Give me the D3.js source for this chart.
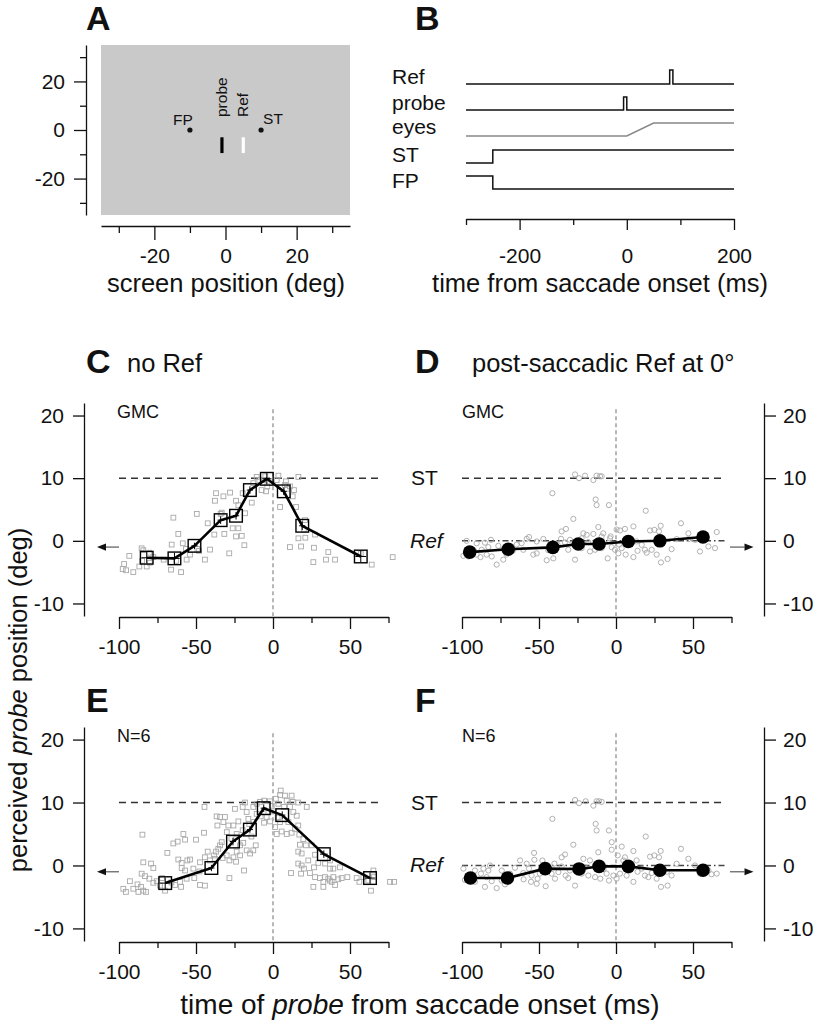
<!DOCTYPE html>
<html><head><meta charset="utf-8">
<script src="https://cdn.jsdelivr.net/npm/d3@7"></script>
<style>body{margin:0;background:#fff}svg{display:block}</style>
</head><body>
<svg id="c" width="819" height="1027"></svg>
<script>
// ---------- DATA ----------
// Panel A: stimulus layout (deg)
const screenDomain = [-35, 35];
const screenMajorTicks = [-20, 0, 20];
const screenMinorTicks = [-30, -10, 10, 30];
const fpPos = [-10, 0];
const stPos = [10, 0];
const probeBar = { x: -1, y0: -3, y1: -9.5 };
const refBar = { x: 5, y0: -3, y1: -9.5 };

// Panel B: trial timeline (ms)
const timelineDomain = [-300, 200];
const timelineMajorTicks = [-200, 0, 200];
const timelineMinorTicks = [-300, -100, 100];
const timelineLabels = ["Ref", "probe", "eyes", "ST", "FP"];
const refPulse = [80, 86];
const probePulse = [-6, 0];
const eyesRamp = [0, 50];
const stOnset = -250;
const fpOffset = -250;

// Panels C-F
const timeDomain = [-100, 75];
const timeMajorTicks = [-100, -50, 0, 50];
const timeMinorTicks = [-75, -25, 25, 75];
const posDomain = [-12, 22];
const posTicks = [-10, 0, 10, 20];
const stLevel = 10;
const refLevel = 0;
const arrowLevel = -1;

const cMeanT = [-82, -64, -51, -34, -24, -15, -4, 7, 19, 57];
const cMeanV = [-2.7, -2.8, -0.8, 3.3, 4.0, 8.1, 9.9, 7.9, 2.4, -2.5];
const cErrT = [3.5, 3.5, 2, 2, 2, 2, 3, 2, 2, 3.5];
const cErrV = [0.9, 0.9, 0.5, 0.6, 0.6, 0.6, 0.9, 0.6, 0.7, 0.9];
const cScatter = [[-93.3,-2.4],[-96.7,-3.7],[-97.6,-4.5],[-95.4,-4.7],[-90.7,-5.0],[-86.8,-4.1],[-85.3,-1.2],[-84.2,-1.5],[-82,-4.1],[-80.3,-1.9],[-77.7,-2.6],[-66.2,-4.6],[-59.7,-5.0],[-64.7,3.7],[-61.5,1.1],[-65.8,-0.6],[-58.6,-0.4],[-56.5,-1.3],[-56.1,-3.0],[-49.5,4.3],[-53.9,-2.2],[-49.1,-1.3],[-44.2,-3.0],[-42.4,2.8],[-40.9,-1.4],[-37,7.6],[-37.7,6.4],[-32.2,7.1],[-27.9,7.7],[-33.3,4.5],[-38.1,1.0],[-31.6,1.1],[-28.4,-2.0],[-26.2,2.0],[-22.5,2.0],[-24,6.4],[-22.5,5.7],[-24,0.7],[-20.3,0.8],[-18.6,-0.7],[-19.7,7.6],[-18.2,4.4],[-13.8,6.1],[-12.8,9.2],[-10.6,10.2],[-7.4,8.1],[-4.5,7.9],[-3.7,8.7],[-6.3,9.7],[-8.9,9.7],[3.5,10.4],[2.4,9.7],[4.6,5.4],[8.4,9.5],[7.8,8.9],[12.8,7.1],[13.6,8.1],[15,5.4],[16.5,10.2],[11,8.7],[16.5,0.4],[20.8,3.3],[11,-1.0],[18.2,-0.9],[26.6,-1.1],[27.3,1.0],[26.2,-3.4],[34.4,-3.0],[40.3,-3.0],[35.9,-1.8],[64.1,-3.8],[77.7,-2.6],[-85,-3.2],[-80,-3.5],[-48,-1.6],[-34,4.3],[-5,10.3],[9,8.3],[20,1.8],[21,0.5],[57,-2.0],[-63,-3.2],[-71,-3.0]];

const dMeanT = [-95, -70, -41, -24.5, -11, 8, 28.5, 56.5];
const dMeanV = [-1.8, -1.35, -1.05, -0.5, -0.5, -0.1, 0, 0.6];
const dScatter = [[-26.6,10.6],[-24,10.0],[-20.1,10.4],[-14.7,9.7],[-12.6,10.4],[-10.4,10.3],[-9.3,10.3],[-41.3,7.6],[-13.2,6.6],[-12.6,5.7],[-4.6,5.7],[19.3,4.8],[-27.7,3.5],[-35.3,1.5],[-32.5,1.9],[-11.5,2.2],[0.4,1.8],[2.6,1.65],[5.8,1.9],[11.3,2.3],[22.1,1.65],[24.9,1.75],[29,2.4],[27.9,1.5],[42.2,2.8],[47,1.2],[65.4,1.4],[-21.2,1.2],[-19.0,0.96],[-14.7,1.1],[-8.3,1.2],[-3.5,0.7],[-22.3,0.4],[-9.3,0.7],[-3.9,0.4],[-99.1,-2.4],[-95.9,-2.5],[-97,0],[-90.5,-0.4],[-85.1,-0.3],[-81.2,0.16],[-87.2,-1.43],[-84,-2.2],[-80.7,-2.5],[-77.5,-3.8],[-73.2,-3.0],[-90.5,-2.2],[-82.9,-1.0],[-76.4,-0.8],[-64.5,-0.6],[-61.3,-0.37],[-58,0.32],[-56.5,0.6],[-51.5,-0.1],[-47.2,0.3],[-53.7,-2.2],[-51.5,-2.0],[-45,-3.1],[-40.7,-2.8],[-35.7,0.32],[-33.1,-0.26],[-29.9,0.16],[-31,-1.43],[-26.6,-3.0],[-22.3,-1.17],[-16.9,-1.7],[-13.6,-1.43],[-9.3,-1.17],[-5.4,-2.8],[-2.8,-1.0],[-0.7,-1.43],[1.5,-2.0],[3.7,-1.17],[6.3,-2.2],[11.3,-2.6],[13.4,-0.1],[16.7,-0.64],[18.8,-1.43],[19.9,-1.9],[23.2,-1.43],[26.4,-2.2],[29.2,-3.45],[33.5,-2.9],[36.1,-1.33],[39.4,0.27],[47,0.27],[54.5,-1.7],[60,-0.9],[64.3,-1.17],[51.3,0.16],[-67.8,-0.9],[-71,-2.2],[-60.2,-1.43],[-92,-1.6],[-88,-2.6],[-67,-1.6],[-44,-1.5],[-38,-0.6],[-18,-0.2],[2,-0.6],[14,-1.6]];

const eMeanT = [-70, -40, -26, -15, -6, 6, 33, 63];
const eMeanV = [-2.8, -0.4, 3.8, 5.7, 9.1, 8.0, 1.8, -2.0];
const eErrT = [3.5, 2, 2, 2, 2, 2, 2.5, 3.5];
const eErrV = [0.9, 0.5, 0.6, 0.5, 0.6, 0.6, 0.6, 0.9];
const eScatter = [[-97.2,-3.7],[-95.5,-4.2],[-92.9,-2.5],[-90.7,-3.7],[-87.4,-4.2],[-85.7,-3.4],[-84.2,-4.0],[-82.5,-4.2],[-84.8,4.9],[-84.2,0.5],[-79.2,0.3],[-77.7,-0.4],[-85.3,-1.3],[-83.1,-1.7],[-80.3,-2.1],[-77.7,-2.75],[-75.5,-2.5],[-73.4,-3.2],[-64.7,3.5],[-61.9,3.8],[-58.2,5.0],[-57.1,4.1],[-50,4.1],[-44.8,5.2],[-68.6,2.0],[-61.5,0.95],[-59.3,0.4],[-55.6,0.8],[-53.9,0.95],[-59.3,-0.4],[-57.1,-0.8],[-51.7,-0.5],[-47.8,-0.95],[-60.4,-2.6],[-56.1,-2.1],[-51.1,-2.0],[-47.4,-3.1],[-44.2,-3.2],[-63.6,-3.1],[-59.7,-3.4],[-70.1,-4.0],[-47.4,0.5],[-44.2,1.3],[-42.4,2.2],[-40.9,0.8],[-38.3,1.6],[-37,2.2],[-35.5,2.65],[-34.4,3.2],[-33.3,3.7],[-36.6,7.8],[-34.4,7.7],[-31.2,7.7],[-36.1,6.35],[-32.2,6.9],[-29,6.35],[-37.7,1.06],[-32.7,1.2],[-30.1,1.6],[-28.3,0.8],[-25.7,1.3],[-24,0.6],[-21.4,1.6],[-18.8,-0.8],[-28.3,-2.0],[-23.6,2.2],[-21.4,3.2],[-19.3,3.6],[-17.1,2.4],[-14.9,1.9],[-12.8,2.4],[-11.2,3.2],[-23.6,5.0],[-19.7,5.6],[-25.7,6.35],[-22.5,7.0],[-24.7,9.0],[-19.7,9.3],[-18.2,10],[-17.1,8.5],[-16,7.4],[-15.4,6.6],[-12.8,6.9],[-10.6,8.2],[-12.8,9.3],[-10.6,9.8],[-8.4,10.1],[-5.8,10.3],[-3,8.5],[-4.1,7.7],[-5.8,6.8],[-1.9,7.0],[-0.8,9.5],[1.9,10.6],[4.6,11.2],[5,11.9],[7.8,11.1],[8.9,10.3],[12.1,11.1],[12.8,10.1],[3.5,9.8],[7.2,9.3],[11.0,9.3],[16.4,10],[21.9,9.3],[1.3,6.1],[5.6,5.4],[8.9,5.0],[12.1,5.2],[14.3,5.8],[16.4,6.35],[2.4,5.0],[4.6,6.9],[10,6.9],[13.2,8.5],[15.4,7.9],[17.1,4.9],[19.7,4.2],[21.4,3.2],[17.5,3.3],[16.4,2.2],[18.6,1.9],[25.1,3.2],[27.3,1.7],[22.9,0.8],[16.4,0.3],[18.6,0],[20.1,-0.5],[18.2,-1.3],[11.7,-1.2],[24,-1.2],[26.6,-0.3],[29.4,0.4],[33.8,0.3],[37,0.8],[37,-0.5],[39.2,-0.5],[43.5,-0.3],[27.3,-1.85],[30.5,-2.0],[33.8,-1.85],[35.9,-2.1],[39.2,-1.85],[42.4,-2.2],[32.7,-2.6],[37,-2.4],[40.3,-3.1],[44.6,-2.0],[48.3,-1.85],[26.2,-3.4],[32.7,-3.4],[38.1,-2.6],[54.3,-2.0],[56.1,-2.6],[58.7,-1.85],[61.9,-2.4],[65.2,-0.8],[65.6,-1.85],[63.6,-4.0],[76,-2.6],[78.6,-2.6],[-44.5,9.3],[-30,5.3],[-27,4.3],[-14,4.6],[-8,7.8],[0,8.6],[3,7.6],[-2,10.2],[-66,-2.7],[-72,-2.0],[-88,-3.0]];

const fMeanT = [-94.5, -70.5, -46, -24, -11, 8, 28.5, 56.5];
const fMeanV = [-2.0, -2.0, -0.5, -0.55, -0.15, -0.15, -0.75, -0.75];
const fScatter = [[-26.6,10.4],[-24,9.9],[-19.7,10.2],[-14.7,9.5],[-12.6,10.2],[-11,10.2],[-9.3,10.1],[-41.3,7.4],[-13.2,6.6],[-12.6,5.56],[-4.6,5.56],[19.3,4.6],[42.2,2.65],[-27.7,3.3],[-2.8,3.7],[-2.8,2.5],[3.7,3.0],[11.3,2.3],[-53.2,2.0],[-35.3,1.3],[-33.1,1.75],[-21.2,1.06],[-11.5,2.1],[1.1,1.6],[5.8,1.3],[22.1,1.4],[24.9,1.6],[29,2.3],[27.9,1.3],[47,1.06],[65.4,-1.3],[-99.1,-0.5],[-98.1,-2.3],[-91.6,-2.6],[-87.7,-1.3],[-85.1,-3.4],[-82.9,-0.8],[-81.8,0.0],[-80.7,-2.5],[-77.5,-3.6],[-74.2,-2.4],[-72.1,-3.0],[-65.6,-0.37],[-62.3,0.8],[-60.2,-1.2],[-58,0.27],[-56.5,-0.5],[-54.8,-1.6],[-53,0.9],[-50.9,-2.1],[-49.4,-1.3],[-47.8,0.8],[-45.7,-3.3],[-55.2,-2.6],[-51.5,-2.9],[-41.8,-1.3],[-39.6,-2.1],[-37.4,-1.05],[-35.3,-0.16],[-32.7,-1.6],[-29.9,-0.8],[-26.6,-3.2],[-22.3,-1.3],[-18,-1.6],[-16.9,0.8],[-13.6,-1.85],[-10.2,-2.1],[-6.1,-1.3],[-4.6,-2.4],[-1.7,-1.6],[0.4,-2.1],[2.6,-1.3],[4.8,0.8],[6.9,-1.6],[11.3,-2.6],[13.4,0.8],[16.7,-0.5],[18.8,-1.6],[21,-1.85],[23.2,-1.2],[26.4,-2.1],[29.2,-3.4],[33.5,-3.2],[36.1,-1.6],[39.4,0.27],[51.3,0],[54.5,-1.3],[60,-0.8],[-74.2,-0.8],[-68.8,-1.3],[-91.6,-0.8],[-86.1,-0.5],[-84,-1.85],[-95.9,-1.6],[-60,-2.2],[-44,-0.5],[-40,0.3],[-31,-2.0],[-20,-0.3],[-8,-0.6],[9,-0.8],[14,-1.0],[33,-1.0],[62,-1.4]];

// ---------- DRAWING ----------
const FONT = '"Liberation Sans", Arial, Helvetica, sans-serif';
const INK = "#111";
const svg = d3.select("#c");

function addText(x, y, s, o = {}) {
  const t = svg.append("text").attr("x", x).attr("y", y).text(s)
    .attr("font-family", FONT).attr("font-size", o.size || 21)
    .attr("fill", o.fill || INK);
  if (o.anchor) t.attr("text-anchor", o.anchor);
  if (o.weight) t.attr("font-weight", o.weight);
  if (o.italic) t.attr("font-style", "italic");
  if (o.rotate) t.attr("transform", `rotate(${o.rotate},${x},${y})`);
  return t;
}

function drawAxis(axisFn, scale, tx, ty, major, minor, o) {
  const pos = `translate(${tx},${ty})`;
  if (minor && minor.length) {
    const g2 = svg.append("g").attr("transform", pos);
    g2.call(axisFn(scale).tickValues(minor).tickSize(o.minor).tickSizeOuter(0).tickFormat(""));
    g2.select(".domain").remove();
    g2.selectAll(".tick line").attr("stroke", INK).attr("stroke-width", 1.3);
  }
  const g = svg.append("g").attr("transform", pos);
  g.call(axisFn(scale).tickValues(major).tickSize(o.tick).tickSizeOuter(0)
    .tickPadding(o.pad).tickFormat(d => String(d)));
  g.select(".domain").attr("stroke", INK).attr("stroke-width", 1.3);
  g.selectAll(".tick line").attr("stroke", INK).attr("stroke-width", 1.3);
  g.selectAll(".tick text").attr("font-family", FONT).attr("font-size", o.fs || 21).attr("fill", INK);
  return g;
}

// ===== Panel A =====
(function () {
  const x = d3.scaleLinear().domain(screenDomain).range([101, 350]);
  const y = d3.scaleLinear().domain(screenDomain).range([215, 45]);
  svg.append("rect").attr("x", x(screenDomain[0])).attr("y", y(screenDomain[1]))
    .attr("width", x(screenDomain[1]) - x(screenDomain[0]))
    .attr("height", y(screenDomain[0]) - y(screenDomain[1]))
    .attr("fill", "#c9c9c9");
  drawAxis(d3.axisLeft, y, 86, 0, screenMajorTicks, screenMinorTicks, { tick: 12, minor: 6, pad: 9 });
  drawAxis(d3.axisBottom, x, 0, 226, screenMajorTicks, screenMinorTicks, { tick: 14, minor: 7, pad: 8 });
  [fpPos, stPos].forEach(p => svg.append("circle").attr("cx", x(p[0])).attr("cy", y(p[1])).attr("r", 2.6).attr("fill", INK));
  addText(x(fpPos[0]) + 3, y(fpPos[1]) - 5, "FP", { size: 15.5, anchor: "end" });
  addText(x(stPos[0]) + 2, y(stPos[1]) - 6, "ST", { size: 15.5 });
  svg.append("line").attr("x1", x(probeBar.x)).attr("x2", x(probeBar.x))
    .attr("y1", y(probeBar.y0)).attr("y2", y(probeBar.y1)).attr("stroke", "#000").attr("stroke-width", 3.2);
  svg.append("line").attr("x1", x(refBar.x)).attr("x2", x(refBar.x))
    .attr("y1", y(refBar.y0)).attr("y2", y(refBar.y1)).attr("stroke", "#fff").attr("stroke-width", 3.2);
  addText(x(probeBar.x) + 5, 117, "probe", { size: 15.5, rotate: -90 });
  addText(x(refBar.x) + 5, 117, "Ref", { size: 15.5, rotate: -90 });
  addText(86, 30, "A", { size: 34, weight: "bold" });
  addText(226, 292, "screen position (deg)", { size: 25.5, anchor: "middle" });
})();

// ===== Panel B =====
(function () {
  const x = d3.scaleLinear().domain(timelineDomain).range([466, 734]);
  const t0 = timelineDomain[0], t1 = timelineDomain[1];
  const line = (d, c) => svg.append("path").attr("d", d).attr("fill", "none")
    .attr("stroke", c || INK).attr("stroke-width", 1.5);
  line(`M${x(t0)},84H${x(refPulse[0])}V70H${x(refPulse[1])}V84H${x(t1)}`);
  line(`M${x(t0)},110H${x(probePulse[0])}V97H${x(probePulse[1])}V110H${x(t1)}`);
  line(`M${x(t0)},136H${x(eyesRamp[0])}L${x(eyesRamp[1])},123H${x(t1)}`, "#888");
  line(`M${x(t0)},163H${x(stOnset)}V150H${x(t1)}`);
  line(`M${x(t0)},176H${x(fpOffset)}V189H${x(t1)}`);
  const labelY = [84, 110, 134, 162, 188];
  timelineLabels.forEach((s, i) => addText(392, labelY[i], s, { size: 21 }));
  drawAxis(d3.axisBottom, x, 0, 219, timelineMajorTicks, timelineMinorTicks, { tick: 11, minor: 6, pad: 18 });
  addText(415, 30, "B", { size: 34, weight: "bold" });
  addText(600, 292, "time from saccade onset (ms)", { size: 25.5, anchor: "middle" });
})();

// ===== Panels C-F =====
function arrow(xTail, xTip, yy) {
  const dir = xTip > xTail ? 1 : -1;
  const hl = 9, hw = 3.6;
  svg.append("line").attr("x1", xTail).attr("x2", xTip - dir * hl).attr("y1", yy).attr("y2", yy)
    .attr("stroke", "#666").attr("stroke-width", 1.3);
  svg.append("path").attr("d", `M${xTip},${yy}L${xTip - dir * hl},${yy - hw}L${xTip - dir * hl},${yy + hw}Z`)
    .attr("fill", INK);
}

function dataPanel(p) {
  const x = d3.scaleLinear().domain(timeDomain).range([p.x0, p.x1]);
  const y = d3.scaleLinear().domain(posDomain).range([p.yb, p.yt]);
  svg.append("line").attr("x1", x(0)).attr("x2", x(0)).attr("y1", y(21)).attr("y2", y(posDomain[0]))
    .attr("stroke", "#888").attr("stroke-width", 1.2).attr("stroke-dasharray", "4,3");
  svg.append("line").attr("x1", x(-100)).attr("x2", x(70)).attr("y1", y(stLevel)).attr("y2", y(stLevel))
    .attr("stroke", "#333").attr("stroke-width", 1.4).attr("stroke-dasharray", "7,5");
  if (p.ref) {
    svg.append("line").attr("x1", x(-100)).attr("x2", x(71)).attr("y1", y(refLevel)).attr("y2", y(refLevel))
      .attr("stroke", "#444").attr("stroke-width", 1.4).attr("stroke-dasharray", "6,3,1.5,3");
  }
  const g = svg.append("g");
  if (p.marker === "square") {
    g.selectAll("rect").data(p.scatter).join("rect")
      .attr("x", d => x(d[0]) - 2.4).attr("y", d => y(d[1]) - 2.4)
      .attr("width", 4.8).attr("height", 4.8)
      .attr("fill", "none").attr("stroke", "#a8a8a8").attr("stroke-width", 0.9);
  } else {
    g.selectAll("circle").data(p.scatter).join("circle")
      .attr("cx", d => x(d[0])).attr("cy", d => y(d[1])).attr("r", 2.6)
      .attr("fill", "none").attr("stroke", "#a8a8a8").attr("stroke-width", 0.9);
  }
  const pts = p.meanT.map((t, i) => [x(t), y(p.meanV[i])]);
  svg.append("path").attr("d", d3.line()(pts)).attr("fill", "none")
    .attr("stroke", "#000").attr("stroke-width", 2.6).attr("stroke-linejoin", "round");
  if (p.marker === "square") {
    p.meanT.forEach((t, i) => {
      const cx = x(t), cy = y(p.meanV[i]);
      svg.append("line").attr("x1", x(t - p.errT[i])).attr("x2", x(t + p.errT[i])).attr("y1", cy).attr("y2", cy)
        .attr("stroke", "#000").attr("stroke-width", 1);
      svg.append("line").attr("x1", cx).attr("x2", cx).attr("y1", y(p.meanV[i] - p.errV[i])).attr("y2", y(p.meanV[i] + p.errV[i]))
        .attr("stroke", "#000").attr("stroke-width", 1);
      svg.append("rect").attr("x", cx - 6.3).attr("y", cy - 6.3).attr("width", 12.6).attr("height", 12.6)
        .attr("fill", "none").attr("stroke", "#000").attr("stroke-width", 1.4);
    });
  } else {
    svg.append("g").selectAll("circle").data(pts).join("circle")
      .attr("cx", d => d[0]).attr("cy", d => d[1]).attr("r", 6.8).attr("fill", "#000");
  }
  drawAxis(d3.axisBottom, x, 0, p.yb + 1, timeMajorTicks, timeMinorTicks, { tick: 12, minor: 6, pad: 10 });
  if (p.side === "left") {
    drawAxis(d3.axisLeft, y, p.axisX, 0, posTicks, [], { tick: 11, pad: 9 });
    arrow(p.x0, p.x0 - 22, y(arrowLevel));
  } else {
    drawAxis(d3.axisRight, y, p.axisX, 0, posTicks, [], { tick: 12, pad: 7 });
    arrow(p.x1 - 1.5, p.x1 + 22, y(arrowLevel));
  }
  addText(p.x0 - (p.side === "left" ? 2 : 0), y(21) + 9, p.tag, { size: 18 });
  if (p.ref) {
    addText(411, y(stLevel) + 7, "ST", { size: 21 });
    addText(410, y(refLevel) + 7, "Ref", { size: 21, italic: true });
  }
}

dataPanel({ x0: 119, x1: 388.5, yt: 403, yb: 616, axisX: 84, side: "left", marker: "square",
  scatter: cScatter, meanT: cMeanT, meanV: cMeanV, errT: cErrT, errV: cErrV, tag: "GMC" });
dataPanel({ x0: 462, x1: 731.5, yt: 403, yb: 616, axisX: 764, side: "right", marker: "circle", ref: true,
  scatter: dScatter, meanT: dMeanT, meanV: dMeanV, tag: "GMC" });
dataPanel({ x0: 119, x1: 388.5, yt: 727, yb: 941, axisX: 84, side: "left", marker: "square",
  scatter: eScatter, meanT: eMeanT, meanV: eMeanV, errT: eErrT, errV: eErrV, tag: "N=6" });
dataPanel({ x0: 462, x1: 731.5, yt: 727, yb: 941, axisX: 764, side: "right", marker: "circle", ref: true,
  scatter: fScatter, meanT: fMeanT, meanV: fMeanV, tag: "N=6" });

addText(86, 373, "C", { size: 34, weight: "bold" });
addText(127, 372, "no Ref", { size: 25.5 });
addText(415, 373, "D", { size: 34, weight: "bold" });
addText(472, 372, "post-saccadic Ref at 0°", { size: 25.5 });
addText(86, 712, "E", { size: 34, weight: "bold" });
addText(415, 712, "F", { size: 34, weight: "bold" });

const yTitle = svg.append("text").attr("transform", "translate(27,700) rotate(-90)")
  .attr("text-anchor", "middle").attr("font-family", FONT).attr("font-size", 25.5).attr("fill", INK);
yTitle.append("tspan").text("perceived ");
yTitle.append("tspan").attr("font-style", "italic").text("probe");
yTitle.append("tspan").text(" position (deg)");
const xTitle = svg.append("text").attr("x", 420).attr("y", 1014)
  .attr("text-anchor", "middle").attr("font-family", FONT).attr("font-size", 28).attr("fill", INK);
xTitle.append("tspan").text("time of ");
xTitle.append("tspan").attr("font-style", "italic").text("probe");
xTitle.append("tspan").text(" from saccade onset (ms)");
</script>
</body></html>
